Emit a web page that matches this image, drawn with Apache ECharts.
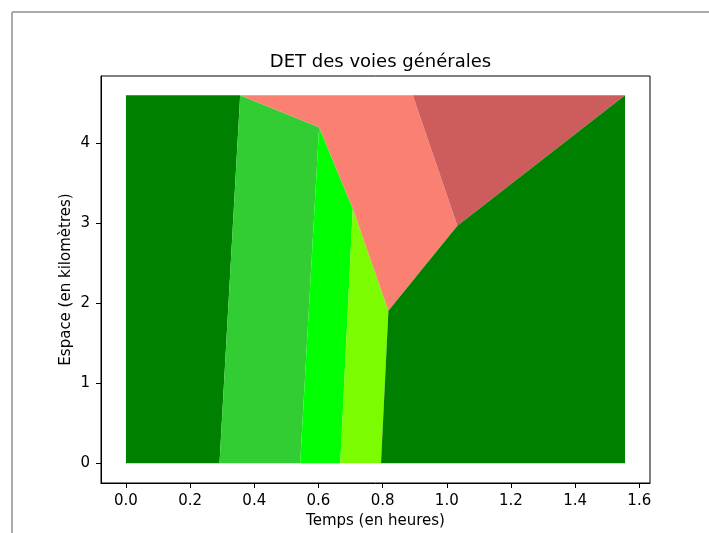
<!DOCTYPE html>
<html>
<head>
<meta charset="utf-8">
<script src="https://cdn.jsdelivr.net/npm/echarts@6/dist/echarts.min.js"></script>
<style>
html,body{margin:0;padding:0;background:#fff;}
#c{width:709px;height:533px;}
</style>
</head>
<body>
<div id="c"></div>
<script>
// Region vertices [time (h), space (km)]
const zoneFluideGauche = [[0,0],[0.2916,0],[0.356,4.6],[0,4.6]];
const zoneLimeGreen = [[0.2916,0],[0.543,0],[0.602,4.2],[0.356,4.6]];
const zoneLime = [[0.543,0],[0.668,0],[0.707,3.185],[0.602,4.2]];
const zoneLawnGreen = [[0.668,0],[0.795,0],[0.818,1.907],[0.707,3.185]];
const zoneSalmon = [[0.356,4.6],[0.602,4.2],[0.707,3.185],[0.818,1.907],[1.033,2.969],[0.894,4.6]];
const zoneIndianRed = [[0.894,4.6],[1.033,2.969],[1.5555,4.6]];
const zoneFluideDroite = [[0.795,0],[1.5555,0],[1.5555,4.6],[1.033,2.969],[0.818,1.907]];

const regions = [zoneFluideGauche, zoneLimeGreen, zoneLime, zoneLawnGreen, zoneSalmon, zoneIndianRed, zoneFluideDroite];
const regionColors = ['#008000','#32CD32','#00FF00','#7CFC00','#FA8072','#CD5C5C','#008000'];

const xTicks = [0,0.2,0.4,0.6,0.8,1.0,1.2,1.4,1.6];
const yTicks = [0,1,2,3,4];

const FONT = 'DejaVu Sans';
const chart = echarts.init(document.getElementById('c'), null, {renderer:'canvas'});

const series = regions.map((pts, i) => ({
  type: 'custom',
  coordinateSystem: 'cartesian2d',
  clip: false,
  silent: true,
  data: pts,
  renderItem: function (params, api) {
    if (params.dataIndex !== 0) return null;
    const points = pts.map(p => api.coord(p));
    return {
      type: 'polygon',
      shape: { points: points },
      style: { fill: regionColors[i], stroke: null }
    };
  }
}));

chart.setOption({
  animation: false,
  backgroundColor: '#fff',
  title: {
    text: 'DET des voies générales',
    left: 375.5,
    top: 48,
    textAlign: 'center',
    textStyle: { fontFamily: FONT, fontSize: 18, fontWeight: 'normal', color: '#000' }
  },
  grid: {
    left: 101, top: 76, width: 549, height: 407,
    containLabel: false,
    outerBoundsMode: 'none',
    show: true, borderColor: '#000', borderWidth: 1, backgroundColor: 'transparent'
  },
  xAxis: {
    type: 'value',
    min: -0.0778, max: 1.6334,
    name: 'Temps (en heures)',
    nameLocation: 'middle',
    nameGap: 31,
    nameMoveOverlap: false,
    nameTextStyle: { fontFamily: FONT, fontSize: 15, color: '#000' },
    axisLine: { show: true, onZero: false, lineStyle: { color: '#000', width: 1 } },
    axisTick: { show: true, inside: false, length: 5, customValues: xTicks, lineStyle: { color: '#000' } },
    axisLabel: {
      customValues: xTicks, margin: 11,
      fontFamily: FONT, fontSize: 15, color: '#000',
      formatter: v => Number(v).toFixed(1)
    },
    splitLine: { show: false }
  },
  yAxis: {
    type: 'value',
    min: -0.246, max: 4.84,
    name: 'Espace (en kilomètres)',
    nameLocation: 'middle',
    nameGap: 27,
    nameMoveOverlap: false,
    nameRotate: 90,
    nameTextStyle: { fontFamily: FONT, fontSize: 15, color: '#000' },
    axisLine: { show: true, onZero: false, lineStyle: { color: '#000', width: 1 } },
    axisTick: { show: true, inside: false, length: 5, customValues: yTicks, lineStyle: { color: '#000' } },
    axisLabel: {
      customValues: yTicks, margin: 11,
      fontFamily: FONT, fontSize: 15, color: '#000',
      formatter: v => String(Math.round(v))
    },
    splitLine: { show: false }
  },
  graphic: [
    { type: 'line', shape: { x1: 12, y1: 12, x2: 709, y2: 12 }, style: { stroke: '#aaaaaa', lineWidth: 2 }, silent: true },
    { type: 'line', shape: { x1: 12, y1: 12, x2: 12, y2: 533 }, style: { stroke: '#aaaaaa', lineWidth: 2 }, silent: true }
  ],
  series: series
});
</script>
</body>
</html>
